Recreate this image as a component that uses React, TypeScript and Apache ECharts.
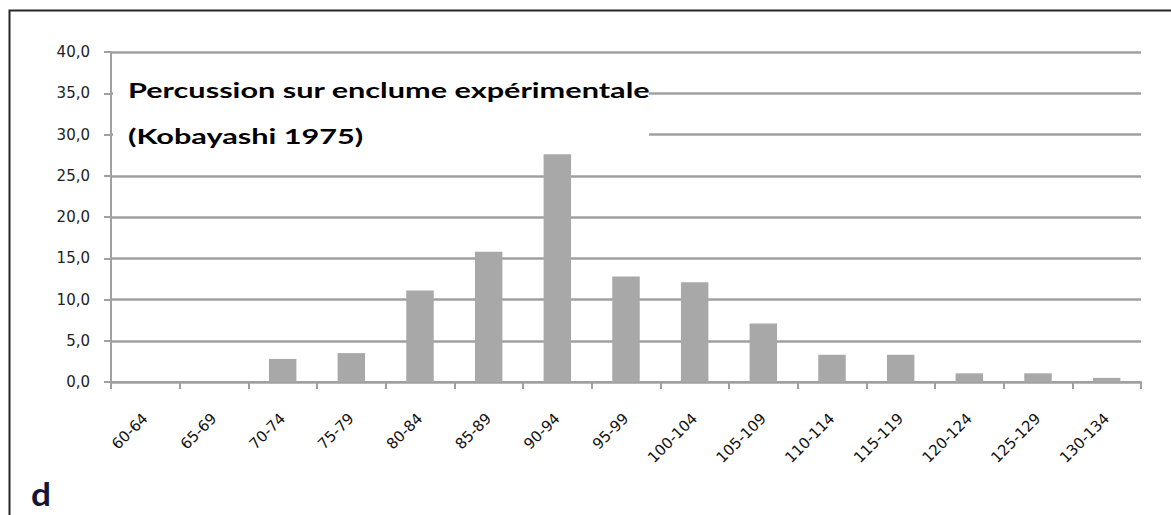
import React, { useEffect, useRef } from "react";
import * as echarts from "echarts";

const categories = [
  "60-64", "65-69", "70-74", "75-79", "80-84", "85-89", "90-94", "95-99",
  "100-104", "105-109", "110-114", "115-119", "120-124", "125-129", "130-134",
];
const values = [0, 0, 2.8, 3.5, 11.1, 15.8, 27.6, 12.8, 12.1, 7.1, 3.3, 3.3, 1.05, 1.05, 0.5];
const titleLines = ["Percussion sur enclume expérimentale", "(Kobayashi 1975)"];
const panelLetter = "d";
const yMin = 0;
const yMax = 40;
const yStep = 5;

export default function App() {
  const ref = useRef<HTMLDivElement>(null);
  useEffect(() => {
    if (!ref.current) return;
    const chart = echarts.init(ref.current, undefined, { renderer: "svg" });
    const gray = "#a0a0a0";
    chart.setOption({
      animation: false,
      backgroundColor: "#ffffff",
      grid: { left: 111, right: 30, top: 52, bottom: 133, containLabel: false },
      xAxis: {
        type: "category",
        data: categories,
        axisLine: { show: true, lineStyle: { color: gray, width: 2 } },
        axisTick: { show: true, length: 7, lineStyle: { color: gray, width: 2 } },
        axisLabel: {
          rotate: 45,
          margin: 34,
          fontFamily: "DejaVu Sans",
          fontSize: 15,
          color: "#111111",
          interval: 0,
        },
        splitLine: { show: false },
      },
      yAxis: {
        type: "value",
        min: yMin,
        max: yMax,
        interval: yStep,
        axisLine: { show: true, lineStyle: { color: gray, width: 2 } },
        axisTick: { show: true, length: 7, lineStyle: { color: gray, width: 2 } },
        axisLabel: {
          margin: 21,
          fontFamily: "DejaVu Sans",
          fontSize: 15,
          color: "#222222",
          formatter: (v: number) => v.toFixed(1).replace(".", ","),
        },
        splitLine: { show: true, lineStyle: { color: gray, width: 2.5 } },
      },
      series: [
        {
          type: "bar",
          data: values,
          barWidth: "40%",
          itemStyle: { color: "#a8a8a8", borderWidth: 0 },
        },
      ],
      graphic: [
        {
          type: "rect",
          z: 5,
          silent: true,
          shape: { x: 113, y: 66, width: 536, height: 84 },
          style: { fill: "#ffffff" },
        },
        {
          type: "text",
          z: 6,
          x: 128,
          y: 90,
          scaleX: 1.46,
          style: {
            text: titleLines[0],
            fontFamily: "Lato",
            fontWeight: "bold",
            fontSize: 21,
            fill: "#000000",
            verticalAlign: "middle",
          },
        },
        {
          type: "text",
          z: 6,
          x: 128,
          y: 136,
          scaleX: 1.46,
          style: {
            text: titleLines[1],
            fontFamily: "Lato",
            fontWeight: "bold",
            fontSize: 21,
            fill: "#000000",
            verticalAlign: "middle",
          },
        },
        {
          type: "text",
          z: 6,
          x: 31,
          y: 494,
          scaleX: 1.1,
          style: {
            text: panelLetter,
            fontFamily: "Lato",
            fontWeight: "bold",
            fontSize: 32,
            fill: "#15153a",
            verticalAlign: "middle",
          },
        },
        {
          type: "rect",
          z: 10,
          silent: true,
          shape: { x: 9.5, y: 10.5, width: 1300, height: 700 },
          style: { fill: "transparent", stroke: "#262626", lineWidth: 2 },
        },
      ],
    });
    return () => chart.dispose();
  }, []);
  return (
    <div
      ref={ref}
      style={{ position: "absolute", left: 0, top: 0, width: 1171, height: 515 }}
    />
  );
}
